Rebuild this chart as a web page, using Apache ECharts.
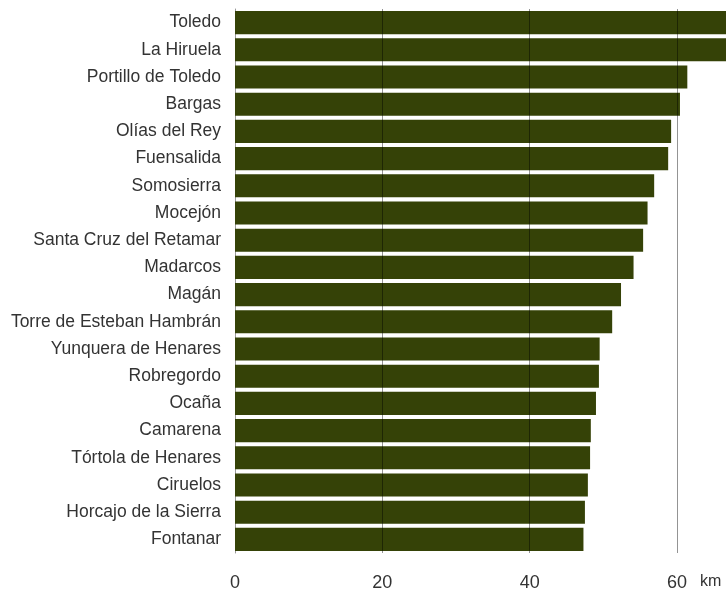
<!DOCTYPE html>
<html>
<head>
<meta charset="utf-8">
<script src="https://cdn.jsdelivr.net/npm/echarts@6/dist/echarts.min.js"></script>
<style>html,body{margin:0;padding:0;background:#fff}#c{width:726px;height:592px}</style>
</head>
<body>
<div id="c"></div>
<script>
const categories = ["Toledo","La Hiruela","Portillo de Toledo","Bargas","Olías del Rey","Fuensalida","Somosierra","Mocejón","Santa Cruz del Retamar","Madarcos","Magán","Torre de Esteban Hambrán","Yunquera de Henares","Robregordo","Ocaña","Camarena","Tórtola de Henares","Ciruelos","Horcajo de la Sierra","Fontanar"];
const distances = [67.2,66.9,61.4,60.4,59.2,58.8,56.9,56.0,55.4,54.1,52.4,51.2,49.5,49.4,49.0,48.3,48.2,47.9,47.5,47.3];
const gridValues = [20,40,60];
const unitLabel = "km";

const chart = echarts.init(document.getElementById('c'), null, {renderer:'canvas'});
chart.setOption({
  animation:false,
  grid:{left:235,width:491,top:9,bottom:39,containLabel:false,outerBoundsMode:'none'},
  xAxis:{
    type:'value', min:0, max:66.65, interval:20,
    name:unitLabel, nameLocation:'end', nameGap:-26,
    nameTextStyle:{fontFamily:'Liberation Sans',fontSize:16,color:'#333',verticalAlign:'top',align:'left',padding:[21,0,0,0]},
    axisLine:{show:false}, axisTick:{show:false}, splitLine:{show:false},
    axisLabel:{fontFamily:'Liberation Sans',fontSize:18,color:'#333',margin:21,
      formatter:v=> (Math.abs(v%20)<1e-6 ? String(v) : '')}
  },
  yAxis:{
    type:'category', data:categories, inverse:true,
    axisLine:{show:true,lineStyle:{color:'#999',width:1}},
    axisTick:{show:false}, splitLine:{show:false},
    axisLabel:{fontFamily:'Liberation Sans',fontSize:17.5,color:'#333',margin:14}
  },
  series:[{
    type:'bar', data:distances, barCategoryGap:'15%',
    itemStyle:{color:'#354207'},
    markLine:{
      silent:true, symbol:['none','none'], label:{show:false},
      lineStyle:{color:'rgba(0,0,0,0.42)',type:'solid',width:1},
      data:gridValues.map(v=>({xAxis:v})),
      z:10
    }
  }]
});
</script>
</body>
</html>
